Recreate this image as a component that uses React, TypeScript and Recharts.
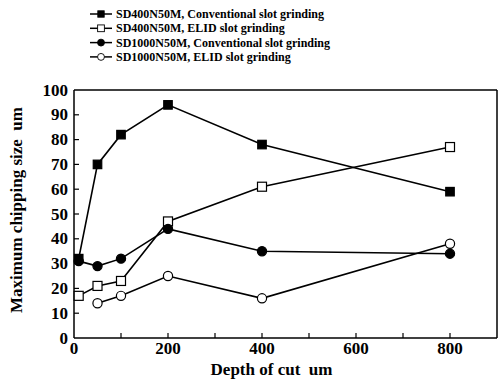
import React from 'react';
import { LineChart, Line, XAxis, YAxis, ReferenceLine } from 'recharts';

// depth of cut (um) for each series
const depthMain = [10, 50, 100, 200, 400, 800];
const depthFine = [50, 100, 200, 400, 800];

// maximum chipping size (um)
const sd400Conv = [32, 70, 82, 94, 78, 59];
const sd400Elid = [17, 21, 23, 47, 61, 77];
const sd1000Conv = [31, 29, 32, 44, 35, 34];
const sd1000Elid = [14, 17, 25, 16, 38];

const xTicks = [0, 100, 200, 300, 400, 500, 600, 700, 800];
const xLabels = [0, 200, 400, 600, 800];
const yTicks = [0, 10, 20, 30, 40, 50, 60, 70, 80, 90, 100];

const legendNames = [
  'SD400N50M, Conventional slot grinding',
  'SD400N50M, ELID slot grinding',
  'SD1000N50M, Conventional slot grinding',
  'SD1000N50M, ELID slot grinding',
];

const FONT = '"Liberation Serif", "Times New Roman", serif';

const toPoints = (xs: number[], ys: number[]) => xs.map((x, i) => ({ x, y: ys[i] }));

type Shape = 'square' | 'circle';

const Marker = ({ cx, cy, shape, filled }: { cx: number; cy: number; shape: Shape; filled: boolean }) => {
  const fill = filled ? '#000' : '#fff';
  if (shape === 'square') {
    const s = filled ? 8.5 : 9;
    return <rect x={cx - s / 2} y={cy - s / 2} width={s} height={s} fill={fill} stroke="#000" strokeWidth={1.2} />;
  }
  return <circle cx={cx} cy={cy} r={4.6} fill={fill} stroke="#000" strokeWidth={1.2} />;
};

const makeDot = (shape: Shape, filled: boolean) => (props: any) => {
  const { cx, cy, index } = props;
  if (cx == null || cy == null) return <g key={index} />;
  return <Marker key={index} cx={cx} cy={cy} shape={shape} filled={filled} />;
};

// ticks point into the plot, labels sit outside
const YTick = (props: any) => {
  const { x, y, payload } = props;
  const v = payload.value;
  return (
    <g>
      {v > 0 && v < 100 && <line x1={x} y1={y} x2={x + 5} y2={y} stroke="#000" strokeWidth={1.2} />}
      <text x={x - 6} y={y} dy={5.5} textAnchor="end" fontFamily={FONT} fontWeight="bold" fontSize={17} fill="#000">
        {v}
      </text>
    </g>
  );
};

const XTick = (props: any) => {
  const { x, y, payload } = props;
  const v = payload.value;
  return (
    <g>
      {v > 0 && <line x1={x} y1={y} x2={x} y2={y - 5} stroke="#000" strokeWidth={1.2} />}
      {xLabels.includes(v) && (
        <text x={x} y={y} dy={16} textAnchor="middle" fontFamily={FONT} fontWeight="bold" fontSize={17} fill="#000">
          {v}
        </text>
      )}
    </g>
  );
};

const series = [
  { name: legendNames[0], data: toPoints(depthMain, sd400Conv), shape: 'square' as Shape, filled: true },
  { name: legendNames[1], data: toPoints(depthMain, sd400Elid), shape: 'square' as Shape, filled: false },
  { name: legendNames[2], data: toPoints(depthMain, sd1000Conv), shape: 'circle' as Shape, filled: true },
  { name: legendNames[3], data: toPoints(depthFine, sd1000Elid), shape: 'circle' as Shape, filled: false },
];

const LegendBox = () => (
  <svg width={500} height={70} style={{ position: 'absolute', left: 0, top: 0 }}>
    {series.map((s, i) => {
      const y = 14 + i * 14.3;
      return (
        <g key={s.name}>
          <line x1={90} y1={y} x2={112} y2={y} stroke="#000" strokeWidth={1.5} />
          <g transform={`translate(101,${y}) scale(0.75) translate(-101,${-y})`}>
            <Marker cx={101} cy={y} shape={s.shape} filled={s.filled} />
          </g>
          <text x={116} y={y} dy={4} fontFamily={FONT} fontWeight="bold" fontSize={12} fill="#000">
            {s.name}
          </text>
        </g>
      );
    })}
  </svg>
);

const XLabel = ({ viewBox }: any) => {
  const cx = viewBox.x + viewBox.width / 2 - 14;
  return (
    <text x={cx} y={375} textAnchor="middle" fontFamily={FONT} fontWeight="bold" fontSize={17} fill="#000" style={{ whiteSpace: 'pre' }}>
      {'Depth of cut  um'}
    </text>
  );
};

const YLabel = ({ viewBox }: any) => {
  const cy = viewBox.y + viewBox.height / 2 - 4;
  return (
    <text x={22} y={cy} transform={`rotate(-90, 22, ${cy})`} textAnchor="middle" fontFamily={FONT} fontWeight="bold" fontSize={17} fill="#000" style={{ whiteSpace: 'pre' }}>
      {'Maximum chipping size  um'}
    </text>
  );
};

export default function App() {
  return (
    <div style={{ position: 'absolute', left: 0, top: 0, width: 500, height: 383, background: '#fff' }}>
      <LineChart width={500} height={383} margin={{ top: 90, right: 3, left: 0, bottom: 0 }}>
        <XAxis
          xAxisId="bottom"
          type="number"
          dataKey="x"
          domain={[0, 900]}
          ticks={xTicks}
          tick={<XTick />}
          tickLine={false}
          tickSize={0}
          tickMargin={0}
          height={45}
          axisLine={{ stroke: '#000', strokeWidth: 1.5 }}
          allowDuplicatedCategory={false}
          label={{ content: <XLabel /> }}
        />
        <YAxis
          yAxisId="left"
          type="number"
          domain={[0, 100]}
          ticks={yTicks}
          tick={<YTick />}
          tickLine={false}
          tickSize={0}
          tickMargin={0}
          width={74}
          axisLine={{ stroke: '#000', strokeWidth: 1.5 }}
          label={{ content: <YLabel /> }}
        />
        <ReferenceLine xAxisId="bottom" yAxisId="left" y={100} stroke="#000" strokeWidth={1.5} ifOverflow="visible" />
        <ReferenceLine xAxisId="bottom" yAxisId="left" x={900} stroke="#000" strokeWidth={1.5} ifOverflow="visible" />
        {series.map((s) => (
          <Line
            key={s.name}
            xAxisId="bottom"
            yAxisId="left"
            data={s.data}
            dataKey="y"
            name={s.name}
            type="linear"
            stroke="#000"
            strokeWidth={1.6}
            dot={makeDot(s.shape, s.filled)}
            activeDot={false}
            isAnimationActive={false}
          />
        ))}
      </LineChart>
      <LegendBox />
    </div>
  );
}
